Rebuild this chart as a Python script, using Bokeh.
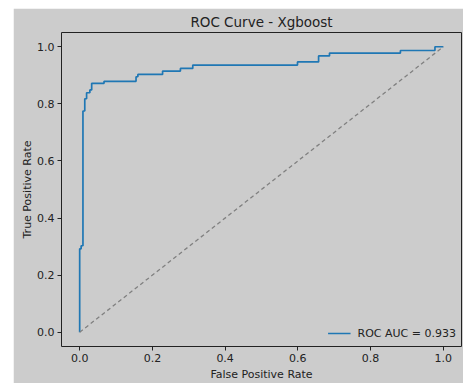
from bokeh.plotting import figure
from bokeh.models import Range1d, FixedTicker, NumeralTickFormatter, Spacer, Legend, LegendItem
from bokeh.layouts import row, column
from bokeh.embed import file_html
from bokeh.resources import INLINE

# ROC curve corner points
fpr = [0.0, 0.0, 0.004, 0.004, 0.009, 0.009, 0.014, 0.014, 0.019, 0.019,
       0.028, 0.028, 0.033, 0.033, 0.067, 0.067, 0.155, 0.155, 0.160, 0.160,
       0.228, 0.228, 0.277, 0.277, 0.311, 0.311, 0.599, 0.599, 0.657, 0.657,
       0.687, 0.687, 0.882, 0.882, 0.977, 0.977, 1.0]
tpr = [0.0, 0.292, 0.292, 0.303, 0.303, 0.775, 0.775, 0.818, 0.818, 0.839,
       0.839, 0.849, 0.849, 0.872, 0.872, 0.879, 0.879, 0.895, 0.895, 0.903,
       0.903, 0.915, 0.915, 0.924, 0.924, 0.936, 0.936, 0.947, 0.947, 0.968,
       0.968, 0.978, 0.978, 0.987, 0.987, 1.0, 1.0]
chance_x = [0.0, 1.0]
chance_y = [0.0, 1.0]
ticks = [0.0, 0.2, 0.4, 0.6, 0.8, 1.0]
title_text = "ROC Curve - Xgboost"
x_label = "False Positive Rate"
y_label = "True Positive Rate"
auc_label = "ROC AUC = 0.933"

BG = "#cccccc"
FONT = "DejaVu Sans"

p = figure(width=450, height=375, output_backend="svg", toolbar_location=None,
           x_range=Range1d(-0.05, 1.05), y_range=Range1d(-0.05, 1.05),
           min_border_left=48, min_border_right=2, min_border_top=24,
           min_border_bottom=36)
p.background_fill_color = BG
p.border_fill_color = BG
p.outline_line_color = "#222222"
p.outline_line_width = 1
p.grid.visible = False

p.title.text = title_text
p.title.align = "center"
p.title.text_font = FONT
p.title.text_font_size = "13.5px"
p.title.text_font_style = "normal"
p.title.text_color = "#222222"
p.title.offset = 0
p.title.standoff = 5

for ax, lab in ((p.xaxis, x_label), (p.yaxis, y_label)):
    ax.ticker = FixedTicker(ticks=ticks)
    ax.formatter = NumeralTickFormatter(format="0.0")
    ax.minor_tick_line_color = None
    ax.major_tick_in = 0
    ax.major_tick_out = 4
    ax.major_tick_line_color = "#222222"
    ax.axis_line_color = None
    ax.major_label_text_font = FONT
    ax.major_label_text_font_size = "11px"
    ax.major_label_text_color = "#222222"
    ax.major_label_standoff = 3
    ax.axis_label = lab
    ax.axis_label_text_font = FONT
    ax.axis_label_text_font_size = "11px"
    ax.axis_label_text_font_style = "normal"
    ax.axis_label_text_color = "#222222"
    ax.axis_label_standoff = 4
p.yaxis.axis_label_standoff = 0
p.xaxis.axis_label_standoff = 3

roc = p.line(fpr, tpr, line_color="#1f77b4", line_width=1.7)
p.line(chance_x, chance_y, line_color="#808080", line_width=1.3, line_dash="4 3")

legend = Legend(items=[LegendItem(label=auc_label, renderers=[roc])],
                location="bottom_right")
legend.background_fill_color = BG
legend.background_fill_alpha = 1.0
legend.border_line_color = None
legend.label_text_font = FONT
legend.label_text_font_size = "11px"
legend.label_text_color = "#222222"
legend.glyph_width = 23
legend.glyph_height = 16
legend.label_height = 16
legend.label_standoff = 7
legend.margin = 5
legend.padding = 3
p.add_layout(legend)

layout = column(Spacer(width=463, height=8), row(Spacer(width=13, height=375), p))
open("out.html", "w").write(file_html(layout, INLINE))
